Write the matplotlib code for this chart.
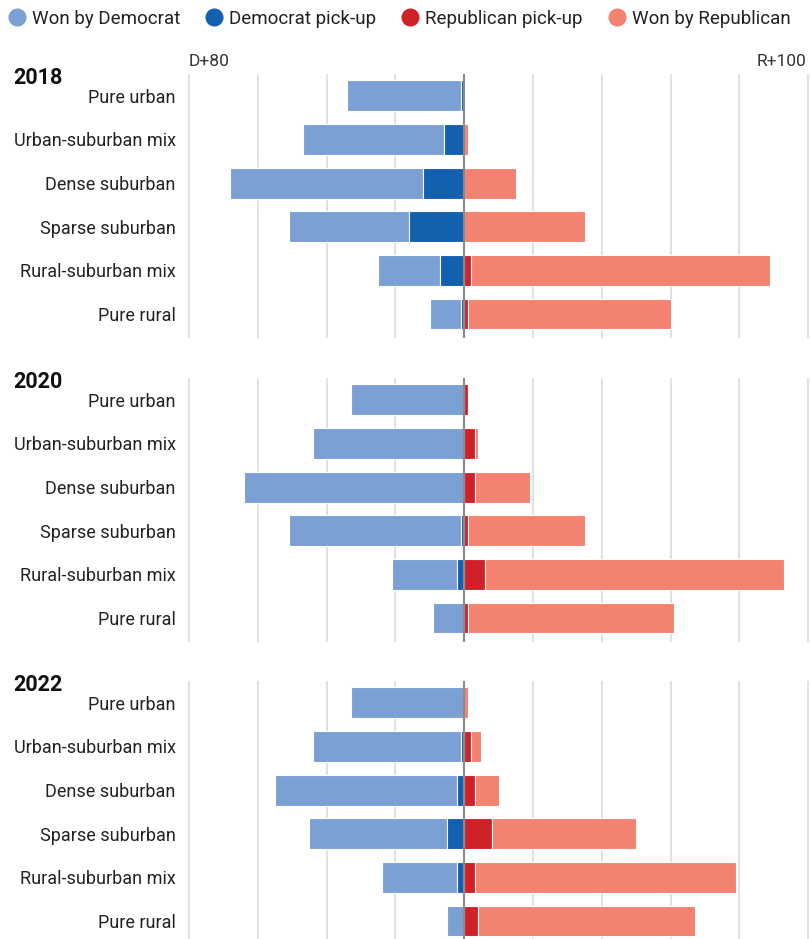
import matplotlib.pyplot as plt
from matplotlib.lines import Line2D

plt.rcParams['font.family'] = ['Roboto', 'DejaVu Sans']

# categories (top to bottom) and years
categories = ['Pure urban', 'Urban-suburban mix', 'Dense suburban',
              'Sparse suburban', 'Rural-suburban mix', 'Pure rural']
years = ['2018', '2020', '2022']

# values (axis units)
dem_won = {
    '2018': [33, 41, 56, 35, 18, 9],
    '2020': [33, 44, 64, 50, 19, 9],
    '2022': [33, 43, 53, 40, 22, 5],
}
dem_pickup = {
    '2018': [1, 6, 12, 16, 7, 1],
    '2020': [0, 0, 0, 1, 2, 0],
    '2022': [0, 1, 2, 5, 2, 0],
}
rep_pickup = {
    '2018': [0, 0, 0, 0, 2, 1],
    '2020': [1, 3, 3, 1, 6, 1],
    '2022': [0, 2, 3, 8, 3, 4],
}
rep_won = {
    '2018': [0, 1, 15, 35, 87, 59],
    '2020': [0, 1, 16, 34, 87, 60],
    '2022': [1, 3, 7, 42, 76, 63],
}

c_dwon = '#7ba0d4'
c_dpick = '#1360ae'
c_rpick = '#d02128'
c_rwon = '#f38270'

fig = plt.figure(figsize=(8.11, 9.39), dpi=100)

tops = [74, 378, 681]
H = 939
W = 811
y = list(range(len(categories)))
bh = 0.71

for yr, top in zip(years, tops):
    ax = fig.add_axes([188 / W, 1 - (top + 264) / H, 622 / W, 264 / H])
    dw = dem_won[yr]
    dp = dem_pickup[yr]
    rp = rep_pickup[yr]
    rw = rep_won[yr]
    left_dw = [-(a + b) for a, b in zip(dw, dp)]
    left_dp = [-b for b in dp]
    ax.barh(y, dw, left=left_dw, height=bh, color=c_dwon, edgecolor='white', linewidth=0.8, zorder=2)
    ax.barh(y, dp, left=left_dp, height=bh, color=c_dpick, edgecolor='white', linewidth=0.8, zorder=2)
    ax.barh(y, rp, left=0, height=bh, color=c_rpick, edgecolor='white', linewidth=0.8, zorder=2)
    ax.barh(y, rw, left=rp, height=bh, color=c_rwon, edgecolor='white', linewidth=0.8, zorder=2)

    for gx in range(-80, 101, 20):
        if gx != 0:
            ax.axvline(gx, color='#dcdcdc', lw=1.2, zorder=0)
    ax.axvline(0, color='#8a8a8a', lw=1.5, zorder=3)

    ax.set_xlim(-80.3, 100.5)
    ax.set_ylim(5.55, -0.5)
    for s in ax.spines.values():
        s.set_visible(False)
    ax.set_xticks([])
    ax.set_yticks(y)
    ax.set_yticklabels(categories, fontsize=13, color='#222222')
    ax.tick_params(axis='y', length=0, pad=9)

    fig.text(13 / W, 1 - (top + 4) / H, yr, fontsize=15.5, fontweight='bold',
             color='#111111', ha='left', va='center')

    if yr == '2018':
        ax.text(-80, -0.62, 'D+80', fontsize=12.5, color='#333333', ha='left', va='bottom')
        ax.text(85, -0.62, 'R+100', fontsize=12.5, color='#333333', ha='left', va='bottom')

handles = [Line2D([], [], marker='o', ls='', color=c, markersize=12)
           for c in [c_dwon, c_dpick, c_rpick, c_rwon]]
labels = ['Won by Democrat', 'Democrat pick-up', 'Republican pick-up', 'Won by Republican']
fig.legend(handles, labels, loc='center left', bbox_to_anchor=(6 / W, 1 - 19 / H), ncol=4,
           frameon=False, fontsize=13.5, handletextpad=0.2, columnspacing=1.2,
           handlelength=1.2, borderaxespad=0, borderpad=0, labelcolor='#222222')

fig.savefig('out.png', dpi=100)
